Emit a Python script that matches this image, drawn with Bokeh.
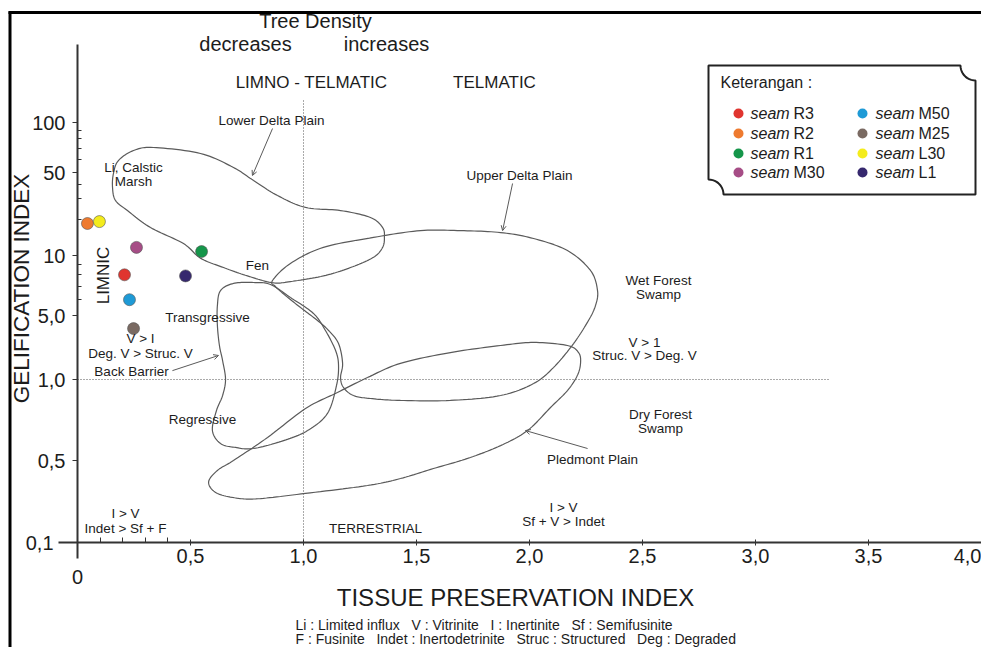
import numpy as np
from bokeh.plotting import figure
from bokeh.models import Range1d, LinearAxis, FixedTicker, Arrow, OpenHead
from bokeh.core.properties import value
from bokeh.embed import file_html
from bokeh.resources import INLINE

# ---------------- data ----------------
seam_names = ["R3", "R2", "R1", "M30", "M50", "M25", "L30", "L1"]
seam_colors = ["#e0352f", "#ee7a2f", "#15964a", "#a64d86", "#1e9ad6", "#7a6a62", "#f4ec1c", "#36286e"]
seam_tpi = [0.208, 0.044, 0.549, 0.261, 0.230, 0.248, 0.097, 0.478]
seam_gi = [8.0, 18.6, 10.8, 11.7, 6.0, 3.6, 19.3, 7.9]

# GI axis of the original diagram is hand-drawn (non-uniform spacing)
gi_ticks = [0.1, 0.5, 1, 5, 10, 50, 100]
gi_tick_labels = ["0,1", "0,5", "1,0", "5,0", "10", "50", "100"]
gi_axis_pos = [0, 82, 163, 227, 287, 370, 420]
gi_minor = [6, 7, 8, 9, 20, 30, 40, 60, 70, 80, 90]

tpi_ticks = [0.5, 1.0, 1.5, 2.0, 2.5, 3.0, 3.5, 4.0]
tpi_tick_labels = ["0,5", "1,0", "1,5", "2,0", "2,5", "3,0", "3,5", "4,0"]
tpi_minor = [0.1, 0.2, 0.3, 0.4]

# facies field outlines (TPI, GI)
ldp_tpi = [0.336, 0.544, 0.69, 0.779, 0.885, 1.009, 1.164, 1.296, 1.35, 1.358, 1.35, 1.31, 1.208,
           1.088, 0.942, 0.863, 0.752, 0.646, 0.544, 0.469, 0.323, 0.221, 0.168, 0.155, 0.159, 0.181, 0.248]
ldp_gi = [70.7, 65.1, 53.6, 42.8, 32.0, 25.4, 23.9, 20.9, 17.2, 14.2, 11.7, 9.8, 8.7,
          7.9, 7.4, 7.3, 7.9, 8.7, 9.7, 12.6, 17.2, 23.9, 29.1, 37.4, 49.0, 59.0, 67.8]

udp_tpi = [0.863, 0.942, 1.088, 1.31, 1.518, 1.695, 1.872, 2.018, 2.168, 2.27, 2.301, 2.292, 2.261,
           2.195, 2.106, 2.018, 1.872, 1.65, 1.429, 1.296, 1.221, 1.177, 1.164, 1.173, 1.155, 1.111,
           1.062, 0.987, 0.92, 0.876]
udp_gi = [7.49, 9.12, 11.7, 14.2, 16.2, 16.2, 15.6, 13.9, 11.0, 8.41, 6.67, 5.61, 4.41,
          2.47, 1.35, 0.966, 0.872, 0.836, 0.836, 0.85, 0.872, 0.934, 1.05, 1.50, 2.47, 3.43,
          4.41, 5.48, 6.30, 6.99]

bb_tpi = [0.633, 0.69, 0.779, 0.854, 0.942, 1.044, 1.097, 1.142, 1.155, 1.146, 1.106, 1.018,
          0.912, 0.779, 0.699, 0.633, 0.597, 0.615, 0.642, 0.655, 0.642, 0.628, 0.619, 0.619]
bb_gi = [6.67, 7.24, 7.32, 7.15, 6.16, 5.12, 3.43, 2.07, 1.42, 0.95, 0.748, 0.646,
         0.593, 0.554, 0.559, 0.578, 0.646, 0.767, 0.872, 1.0, 1.61, 2.35, 3.89, 5.61]

pp_tpi = [0.58, 0.619, 0.69, 0.841, 1.009, 1.15, 1.283, 1.429, 1.65, 1.872, 2.018, 2.168, 2.217,
          2.226, 2.212, 2.168, 2.093, 1.991, 1.872, 1.726, 1.575, 1.429, 1.283, 1.009, 0.81, 0.721, 0.619]
pp_gi = [0.325, 0.411, 0.5, 0.609, 0.78, 0.895, 1.05, 1.50, 1.97, 2.35, 2.54, 2.35, 1.97,
         1.53, 1.11, 0.91, 0.787, 0.646, 0.568, 0.509, 0.427, 0.351, 0.306, 0.262, 0.237, 0.237, 0.262]

# ---------------- scale helpers ----------------
def gy(v):
    return np.interp(np.log10(np.asarray(v, dtype=float)), np.log10(gi_ticks), gi_axis_pos)

W, H = 981, 647
XPIX = 226.0            # pixels per TPI unit
def PX(px):             # canvas x -> TPI
    return (px - 77) / XPIX
def PY(py):             # canvas y -> axis position
    return 542 - py

FONT = value("Liberation Sans")
INK = "#1c1c1c"

p = figure(width=W, height=H, x_range=Range1d(PX(0), PX(W)), y_range=Range1d(PY(H), PY(0)),
           output_backend="svg", toolbar_location=None, x_axis_type=None, y_axis_type=None,
           min_border=0)
p.outline_line_color = None
p.grid.visible = False
p.background_fill_color = "white"

# ---------------- axes ----------------
xaxis = LinearAxis(fixed_location=float(gy(0.1)),
                   ticker=FixedTicker(ticks=tpi_ticks, minor_ticks=tpi_minor),
                   bounds=(PX(58), PX(W)))
xaxis.major_label_overrides = {float(t): l for t, l in zip(tpi_ticks, tpi_tick_labels)}
yt = [float(gy(v)) for v in gi_ticks[1:]]
yaxis = LinearAxis(fixed_location=0.0,
                   ticker=FixedTicker(ticks=yt, minor_ticks=[float(gy(v)) for v in gi_minor]),
                   bounds=(PY(558), PY(44)))
yaxis.major_label_overrides = {t: l for t, l in zip(yt, gi_tick_labels[1:])}
for ax in (xaxis, yaxis):
    ax.axis_line_width = 2
    ax.axis_line_color = "#333333"
    ax.major_tick_line_color = "#333333"
    ax.minor_tick_line_color = "#333333"
    ax.major_label_text_font = "Liberation Sans"
    ax.major_label_text_font_size = "20px"
    ax.major_label_text_color = INK
xaxis.major_tick_in = 3
xaxis.major_tick_out = 3
xaxis.minor_tick_in = 5
xaxis.minor_tick_out = 0
xaxis.major_label_standoff = 3
yaxis.major_tick_in = 0
yaxis.major_tick_out = 5
yaxis.minor_tick_in = 4
yaxis.minor_tick_out = 0
yaxis.major_label_standoff = 7
p.add_layout(xaxis, "below")
p.add_layout(yaxis, "left")

# ---------------- frame of the figure ----------------
p.segment(x0=[PX(9.5), PX(8)], y0=[PY(11), PY(12)], x1=[PX(9.5), PX(W)], y1=[PY(H), PY(12)],
          line_color="black", line_width=3)

# ---------------- reference lines ----------------
p.line([1.0, 1.0], [float(gy(0.1)), PY(100)], line_color="#555555", line_width=1, line_dash="1 2")
p.line([0.0, PX(830)], [float(gy(1.0)), float(gy(1.0))], line_color="#555555", line_width=1, line_dash="1 2")

# ---------------- facies outlines ----------------
def smooth_closed(xs, ys, n=12):
    P = np.column_stack([np.asarray(xs) * XPIX, gy(ys)])
    m = len(P)
    out = []
    for i in range(m):
        p0, p1, p2, p3 = P[(i - 1) % m], P[i], P[(i + 1) % m], P[(i + 2) % m]
        for t in np.linspace(0, 1, n, endpoint=False):
            t2, t3 = t * t, t * t * t
            out.append(0.5 * (2 * p1 + (-p0 + p2) * t + (2 * p0 - 5 * p1 + 4 * p2 - p3) * t2
                              + (-p0 + 3 * p1 - 3 * p2 + p3) * t3))
    out.append(out[0])
    out = np.array(out)
    return out[:, 0] / XPIX, out[:, 1]

for xs, ys in [(ldp_tpi, ldp_gi), (udp_tpi, udp_gi), (bb_tpi, bb_gi), (pp_tpi, pp_gi)]:
    sx, sy = smooth_closed(xs, ys)
    p.line(sx, sy, line_color="#5a5a5a", line_width=1.2)

# pointer arrows (TPI, GI)
arrows = [((0.863, 92.0), (0.774, 47.2)),
          ((1.925, 40.4), (1.881, 16.2)),
          ((0.42, 1.25), (0.624, 1.83)),
          ((2.257, 0.554), (1.982, 0.646))]
for (xa, ga), (xb, gb) in arrows:
    p.add_layout(Arrow(x_start=xa, y_start=float(gy(ga)), x_end=xb, y_end=float(gy(gb)),
                       line_color="#5a5a5a", line_width=1,
                       end=OpenHead(size=5, line_color="#5a5a5a", line_width=1)))

# ---------------- data points ----------------
p.scatter(seam_tpi, gy(seam_gi), size=12, fill_color=seam_colors, line_color="#555555", line_width=0.6)

# ---------------- texts ----------------
def texts(items, size, align="center", angle=0.0, style="normal"):
    p.text(x=[PX(a[1]) for a in items], y=[PY(a[2]) for a in items], text=[a[0] for a in items],
           text_font=FONT, text_font_size=size, text_color=INK, text_align=align,
           text_baseline="middle", angle=angle, text_font_style=style)

texts([("Lower Delta Plain", 271, 120), ("Li, Calstic", 133, 167), ("Marsh", 133, 181),
       ("Upper Delta Plain", 519, 175), ("Fen", 257, 265), ("Transgressive", 207, 317),
       ("V > I", 140, 338), ("Deg. V > Struc. V", 140, 353), ("Back Barrier", 131, 371),
       ("Regressive", 202, 419), ("I > V", 125, 513), ("Indet > Sf + F", 125, 528),
       ("TERRESTRIAL", 375, 528), ("I > V", 563, 507), ("Sf + V > Indet", 563, 521),
       ("Pledmont Plain", 592, 459), ("Dry Forest", 660, 414), ("Swamp", 660, 428),
       ("V > 1", 644, 342), ("Struc. V > Deg. V", 644, 355), ("Wet Forest", 658, 280),
       ("Swamp", 658, 294)], "13.5px")
texts([("Tree Density", 315, 20), ("decreases", 245, 43), ("increases", 386, 43)], "20px")
texts([("LIMNO - TELMATIC", 311, 82), ("TELMATIC", 494, 82)], "17px")
texts([("LIMNIC", 103, 275)], "17px", angle=np.pi / 2)
texts([("TISSUE PRESERVATION INDEX", 515, 597)], "24px")
texts([("GELIFICATION INDEX", 21, 288)], "22.5px", angle=np.pi / 2)
texts([("0", 77, 576)], "20px")
texts([("0,1", 53, 542)], "20px", align="right")
sp = "\u00a0\u00a0\u00a0"
texts([("Li : Limited influx" + sp + "V : Vitrinite" + sp + "I : Inertinite" + sp + "Sf : Semifusinite", 295, 624),
       ("F : Fusinite" + sp + "Indet : Inertodetrinite" + sp + "Struc : Structured" + sp + "Deg : Degraded", 295, 638)],
      "14px", align="left")

# ---------------- legend box (Keterangan) ----------------
L, R, T, B, rad = 708, 975, 65, 194, 15
bx, by = [L, R - rad], [T, T]
for th in np.linspace(np.pi, np.pi / 2, 12):
    bx.append(R + rad * np.cos(th)); by.append(T + rad * np.sin(th))
bx += [R, L + rad]; by += [B, B]
for th in np.linspace(0, -np.pi / 2, 12):
    bx.append(L + rad * np.cos(th)); by.append(B + rad * np.sin(th))
bx.append(L); by.append(T)
p.patch([PX(v) for v in bx], [PY(v) for v in by], fill_color="white", line_color="#222222", line_width=2)
texts([("Keterangan :", 720, 82)], "16px", align="left")

leg_rows = [113, 133, 153, 172]
leg_dot_x = [738] * 4 + [862] * 4
leg_txt_x = [750] * 4 + [875] * 4
leg_y = leg_rows + leg_rows
p.scatter([PX(v) for v in leg_dot_x], [PY(v) for v in leg_y], size=10, fill_color=seam_colors, line_color=None)
p.text(x=[PX(v) for v in leg_txt_x], y=[PY(v) for v in leg_y], text=["seam"] * 8, text_font=FONT,
       text_font_size="16px", text_font_style="italic", text_color=INK, text_align="left", text_baseline="middle")
p.text(x=[PX(v + 43) for v in leg_txt_x], y=[PY(v) for v in leg_y], text=seam_names, text_font=FONT,
       text_font_size="16px", text_color=INK, text_align="left", text_baseline="middle")

open("out.html", "w").write(file_html(p, INLINE))
